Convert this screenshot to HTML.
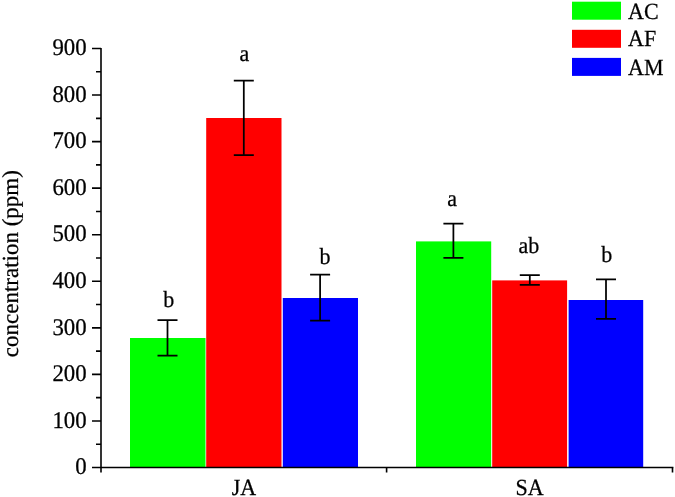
<!DOCTYPE html>
<html><head><meta charset="utf-8">
<style>
html,body{margin:0;padding:0;background:#fff;width:675px;height:497px;overflow:hidden}
svg{display:block;will-change:transform}
text{font-family:"Liberation Serif",serif;fill:#000;stroke:#000;stroke-width:0.25px;text-rendering:geometricPrecision}
</style></head>
<body>
<svg width="675" height="497" viewBox="0 0 675 497" xmlns="http://www.w3.org/2000/svg">
<!-- bars JA -->
<rect x="130" y="338" width="75.5" height="129.5" fill="#00ff00"/>
<rect x="206.2" y="118" width="75.3" height="349.5" fill="#ff0000"/>
<rect x="282.8" y="298" width="75.2" height="169.5" fill="#0000ff"/>
<!-- bars SA -->
<rect x="416" y="241.4" width="75.2" height="226.1" fill="#00ff00"/>
<rect x="492.2" y="280.4" width="74.9" height="187.1" fill="#ff0000"/>
<rect x="568.6" y="300" width="74.6" height="167.5" fill="#0000ff"/>

<g stroke="#000" stroke-width="1.75" fill="none">
<!-- error bars -->
<path d="M167.5 320V355.5M157.5 320H177.5M157.5 355.5H177.5"/>
<path d="M243.8 80.7V155M233.8 80.7H253.8M233.8 155H253.8"/>
<path d="M320.1 274.5V320.5M310.1 274.5H330.1M310.1 320.5H330.1"/>
<path d="M453.4 223.6V257.9M443.4 223.6H463.4M443.4 257.9H463.4"/>
<path d="M529.8 275.2V284.8M519.8 275.2H539.8M519.8 284.8H539.8"/>
<path d="M606 279.3V318.8M596 279.3H616M596 318.8H616"/>
</g>

<g stroke="#000" stroke-width="1.6" fill="none">
<!-- axes -->
<path d="M101 48V472.5"/>
<path d="M92 467.5H673.4"/>
<path d="M386.6 467.5V472.5M672.5 467.5V472.5"/>
<!-- y ticks -->
<path d="M92 420.94H101M92 374.39H101M92 327.83H101M92 281.28H101M92 234.72H101M92 188.17H101M92 141.61H101M92 95.06H101M92 48.50H101"/>
<path d="M96 444.22H101M96 397.67H101M96 351.11H101M96 304.56H101M96 258.00H101M96 211.44H101M96 164.89H101M96 118.33H101M96 71.78H101"/>
</g>

<g font-size="22.8" text-anchor="end">
<text transform="translate(86.6,55.2) scale(1,1.05)">900</text>
<text transform="translate(86.6,101.8) scale(1,1.05)">800</text>
<text transform="translate(86.6,148.3) scale(1,1.05)">700</text>
<text transform="translate(86.6,194.9) scale(1,1.05)">600</text>
<text transform="translate(86.6,241.4) scale(1,1.05)">500</text>
<text transform="translate(86.6,288.0) scale(1,1.05)">400</text>
<text transform="translate(86.6,334.5) scale(1,1.05)">300</text>
<text transform="translate(86.6,381.1) scale(1,1.05)">200</text>
<text transform="translate(86.6,427.6) scale(1,1.05)">100</text>
<text transform="translate(86.6,474.2) scale(1,1.05)">0</text>
</g>

<g font-size="22" text-anchor="middle">
<text transform="translate(244,494.9) scale(1,1.05)">JA</text>
<text transform="translate(529.5,494.9) scale(1,1.05)">SA</text>
<text transform="translate(168.8,307.4) scale(1,1.05)">b</text>
<text transform="translate(244.3,61) scale(1,1.05)">a</text>
<text transform="translate(325,263.8) scale(1,1.05)">b</text>
<text transform="translate(452,205.7) scale(1,1.05)">a</text>
<text transform="translate(528.9,252.5) scale(1,1.05)">ab</text>
<text transform="translate(606.8,261.7) scale(1,1.05)">b</text>
</g>

<text font-size="23" transform="translate(17.6,357.2) rotate(-90)">concentration (ppm)</text>

<!-- legend -->
<rect x="572" y="1.7" width="49" height="18" fill="#00ff00"/>
<rect x="572" y="29.8" width="49" height="18" fill="#ff0000"/>
<rect x="572" y="57.9" width="49" height="18" fill="#0000ff"/>
<g font-size="22">
<text transform="translate(628,18.5) scale(1,1.05)">AC</text>
<text transform="translate(628,46.1) scale(1,1.05)">AF</text>
<text transform="translate(628,74.5) scale(1,1.05)">AM</text>
</g>
</svg>
</body></html>
